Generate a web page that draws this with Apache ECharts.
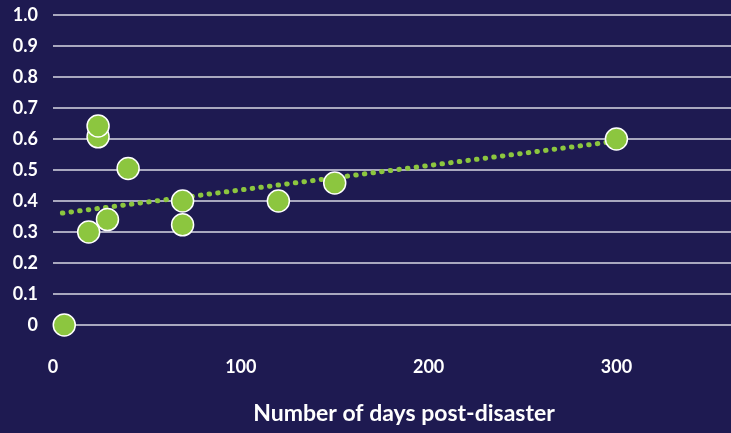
<!DOCTYPE html>
<html>
<head>
<meta charset="utf-8">
<script src="https://cdn.jsdelivr.net/npm/echarts@6/dist/echarts.min.js"></script>
<style>
html,body{margin:0;padding:0;background:#1e1a51;}
#main{width:731px;height:433px;}
</style>
</head>
<body>
<div id="main"></div>
<script>
// days since disaster vs ratio
var days = [6, 19, 24, 24, 29, 40, 69, 69, 120, 150, 300]
var ratio = [0, 0.30, 0.607, 0.642, 0.34, 0.505, 0.40, 0.323, 0.40, 0.458, 0.60]
// trend line end points
var trendX = [5, 300]
var trendY = [0.361, 0.593]

var pts = days.map(function(d, i){ return [d, ratio[i]] })
var trend = trendX.map(function(d, i){ return [d, trendY[i]] })

var green = '#8cc63f'
var myChart = echarts.init(document.getElementById('main'))
myChart.setOption({
    backgroundColor: '#1e1a51',
    animation: false,
    grid: {left: 53, right: 0, top: 15, bottom: 108, containLabel: false, outerBoundsMode: 'none'},
    xAxis: {
        type: 'value',
        min: 0,
        max: 361,
        interval: 100,
        name: 'Number of days post-disaster',
        nameLocation: 'middle',
        nameGap: 77,
        nameTextStyle: {color: '#fff', fontFamily: 'Lato', fontWeight: 'bold', fontSize: 23, padding: [0, 0, 0, 24]},
        axisLine: {show: false},
        axisTick: {show: false},
        splitLine: {show: false},
        axisLabel: {
            color: '#fff', fontFamily: 'Lato', fontWeight: 'bold', fontSize: 18, margin: 33,
            formatter: function(v){ return v > 300 ? '' : v }
        }
    },
    yAxis: {
        type: 'value',
        min: 0,
        max: 1,
        interval: 0.1,
        axisLine: {show: false},
        axisTick: {show: false},
        splitLine: {lineStyle: {color: '#d9d8e4', width: 1.5}},
        axisLabel: {
            color: '#fff', fontFamily: 'Lato', fontWeight: 'bold', fontSize: 18, margin: 15,
            formatter: function(v){ return v === 0 ? '0' : v.toFixed(1) }
        }
    },
    series: [
        {
            type: 'line',
            data: trend,
            symbol: 'none',
            lineStyle: {color: green, width: 5, type: [0.5, 8.2], cap: 'round'},
            z: 2
        },
        {
            type: 'scatter',
            data: pts,
            symbolSize: 22,
            itemStyle: {color: green, borderColor: '#fff', borderWidth: 1.5, opacity: 1},
            z: 3
        }
    ]
})
</script>
</body>
</html>
